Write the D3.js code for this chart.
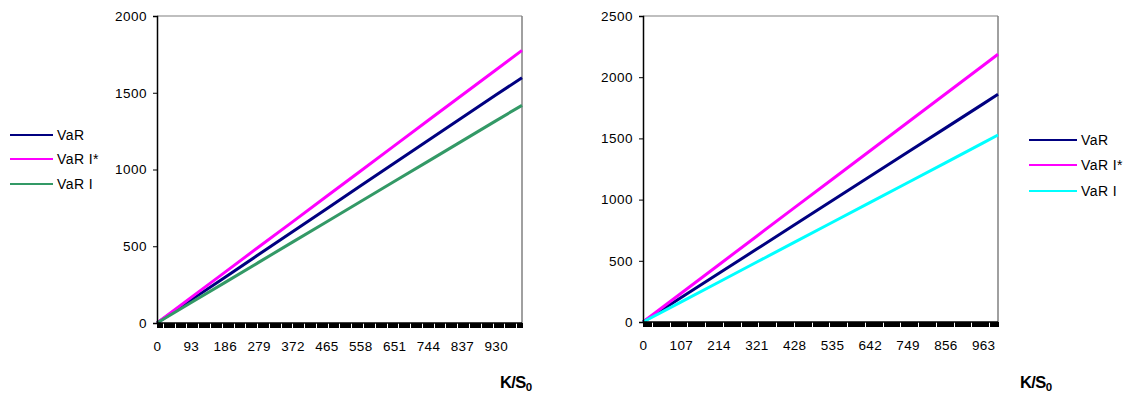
<!DOCTYPE html>
<html>
<head>
<meta charset="utf-8">
<script src="https://cdn.jsdelivr.net/npm/d3@7/dist/d3.min.js"></script>
<style>
  html, body { margin: 0; padding: 0; background: #fff; }
  svg { display: block; }
  text { font-family: Arial, "Liberation Sans", Helvetica, sans-serif; }
</style>
</head>
<body>
<svg id="chart" width="1130" height="398"></svg>
<script>
// ---------- data ----------
const seriesNames = ["VaR", "VaR I*", "VaR I"];

// left chart
const leftCategoryCount = 1003;          // categories 0 .. 1002
const leftLabelStep = 93;
const leftYTicks = [0, 500, 1000, 1500, 2000];
const leftSampleCats = [0, 93, 186, 279, 372, 465, 558, 651, 744, 837, 930, 1002];
const leftVaR      = [0, 149, 297, 446, 594, 743, 892, 1040, 1189, 1337, 1486, 1597];
const leftVaRIstar = [0, 165, 330, 495, 659, 824, 989, 1154, 1319, 1484, 1648, 1776];
const leftVaRI     = [0, 132, 263, 395, 527, 658, 790, 922, 1053, 1185, 1317, 1418];

// right chart
const rightCategoryCount = 1006;         // categories 0 .. 1005
const rightLabelStep = 107;
const rightYTicks = [0, 500, 1000, 1500, 2000, 2500];
const rightSampleCats = [0, 107, 214, 321, 428, 535, 642, 749, 856, 963, 1005];
const rightVaR      = [0, 198, 396, 594, 792, 990, 1188, 1386, 1584, 1782, 1860];
const rightVaRIstar = [0, 233, 466, 699, 932, 1164, 1397, 1630, 1863, 2096, 2188];
const rightVaRI     = [0, 163, 325, 488, 650, 813, 975, 1138, 1300, 1463, 1528];

const leftColors  = ["#000080", "#FF00FF", "#339966"];
const rightColors = ["#000080", "#FF00FF", "#00FFFF"];

// ---------- drawing ----------
const svg = d3.select("#chart");
const FONT = "Arial, 'Liberation Sans', sans-serif";

function drawChart(cfg) {
  const g = svg.append("g");
  const x = d3.scaleLinear().domain([0, cfg.count - 1]).range([cfg.x0, cfg.x1]);
  const y = d3.scaleLinear().domain([0, cfg.yMax]).range([cfg.yBottom, cfg.yTop]);

  // plot border (top & right, gray)
  g.append("line").attr("x1", cfg.x0).attr("x2", cfg.x1).attr("y1", cfg.yTop).attr("y2", cfg.yTop)
    .attr("stroke", "#808080").attr("stroke-width", 1.2);
  g.append("line").attr("x1", cfg.x1).attr("x2", cfg.x1).attr("y1", cfg.yTop).attr("y2", cfg.yBottom)
    .attr("stroke", "#808080").attr("stroke-width", 1.5);

  // series lines
  const line = d3.line().x(d => x(d[0])).y(d => y(d[1]));
  cfg.series.forEach((vals, i) => {
    const pts = cfg.cats.map((c, k) => [c, vals[k]]);
    g.append("path").datum(pts).attr("d", line)
      .attr("fill", "none").attr("stroke", cfg.colors[i]).attr("stroke-width", 3);
  });

  // y axis
  const yAxis = d3.axisLeft(y).tickValues(cfg.yTicks).tickSize(4).tickPadding(6).tickFormat(d3.format("d"));
  const ya = g.append("g").attr("transform", `translate(${cfg.x0},0)`).call(yAxis);
  ya.select(".domain").attr("stroke", "#000").attr("stroke-width", 1.5);
  ya.selectAll(".tick line").attr("stroke", "#000");
  ya.selectAll(".tick text").attr("font-size", 13.5).attr("letter-spacing", "0.5px").attr("fill", "#000")
    .style("font-family", FONT);

  // x axis: dense category ticks
  const tickCats = d3.range(0, cfg.count, 3);
  const xa = g.append("g").attr("transform", `translate(0,${cfg.yBottom})`);
  xa.selectAll("line.ct").data(tickCats).join("line").attr("class", "ct")
    .attr("x1", d => Math.round(x(d)) + 0.5).attr("x2", d => Math.round(x(d)) + 0.5)
    .attr("y1", 0).attr("y2", 5).attr("stroke", "#000").attr("stroke-width", 1)
    .attr("shape-rendering", "crispEdges");
  const xAxis = d3.axisBottom(x).tickValues(d3.range(0, cfg.count, cfg.labelStep).filter(v => v <= cfg.count - 30))
    .tickSize(0).tickPadding(18).tickFormat(d3.format("d"));
  const xa2 = g.append("g").attr("transform", `translate(0,${cfg.yBottom})`).call(xAxis);
  xa2.select(".domain").remove();
  xa2.selectAll(".tick text").attr("font-size", 13.5).attr("letter-spacing", "0.3px").attr("fill", "#000")
    .style("font-family", FONT);
  g.append("line").attr("x1", cfg.x0).attr("x2", cfg.x1).attr("y1", cfg.yBottom).attr("y2", cfg.yBottom)
    .attr("stroke", "#000").attr("stroke-width", 1.5);

  // axis title K/S0
  const t = g.append("text").attr("x", cfg.titleX).attr("y", cfg.titleY)
    .attr("font-size", 16.5).attr("font-weight", "bold").attr("letter-spacing", "-0.6px").attr("fill", "#000");
  t.append("tspan").text("K/S");
  t.append("tspan").attr("font-size", 11.5).attr("dy", 3).text("0");

  // legend
  const lg = g.append("g");
  seriesNames.forEach((name, i) => {
    const yy = cfg.legendYs[i];
    lg.append("line").attr("x1", cfg.legendX0).attr("x2", cfg.legendX1).attr("y1", yy).attr("y2", yy)
      .attr("stroke", cfg.colors[i]).attr("stroke-width", 2);
    lg.append("text").attr("x", cfg.legendX1 + 4).attr("y", yy).attr("dy", "0.35em")
      .attr("font-size", 14).attr("letter-spacing", "0.4px").attr("fill", "#000").text(name);
  });
}

drawChart({
  x0: 157, x1: 522, yTop: 16, yBottom: 323, yMax: 2000,
  count: leftCategoryCount, labelStep: leftLabelStep, yTicks: leftYTicks,
  cats: leftSampleCats, series: [leftVaR, leftVaRIstar, leftVaRI], colors: leftColors,
  titleX: 500, titleY: 388,
  legendX0: 10, legendX1: 53, legendYs: [135, 159, 184]
});

drawChart({
  x0: 643, x1: 998, yTop: 16, yBottom: 322, yMax: 2500,
  count: rightCategoryCount, labelStep: rightLabelStep, yTicks: rightYTicks,
  cats: rightSampleCats, series: [rightVaR, rightVaRIstar, rightVaRI], colors: rightColors,
  titleX: 1020, titleY: 388,
  legendX0: 1029, legendX1: 1077, legendYs: [140, 165, 191]
});
</script>
</body>
</html>
